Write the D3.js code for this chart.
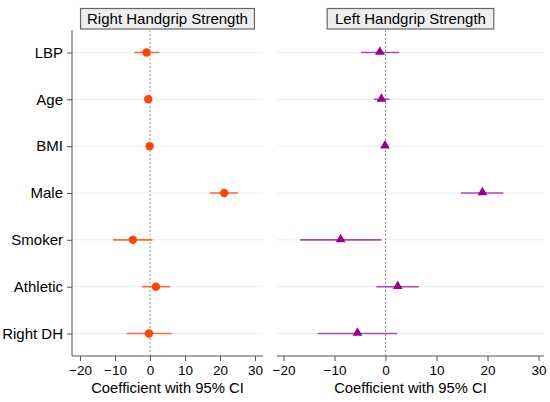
<!DOCTYPE html>
<html>
<head>
<meta charset="utf-8">
<script src="https://cdn.jsdelivr.net/npm/d3@7"></script>
<style>
  body { margin: 0; background: #fff; }
  text { font-family: "Liberation Sans", Arial, sans-serif; fill: #000; }
</style>
</head>
<body>
<div id="chart"></div>
<script>
const categories = ['LBP', 'Age', 'BMI', 'Male', 'Smoker', 'Athletic', 'Right DH']
const panelTitles = ['Right Handgrip Strength', 'Left Handgrip Strength']
const xTicks = [-20, -10, 0, 10, 20, 30]

// right handgrip: coefficient, lower, upper
const rightCoef  = [-1.0, -0.5, -0.1, 21.2, -4.9, 1.7, -0.3]
const rightLower = [-4.5, -0.9, -0.3, 17.1, -10.6, -2.3, -6.7]
const rightUpper = [2.7, -0.1, 0.1, 25.1, 0.7, 5.8, 6.2]

// left handgrip
const leftCoef  = [-1.1, -0.8, -0.1, 19.0, -8.8, 2.4, -5.5]
const leftLower = [-4.8, -2.3, -0.4, 14.8, -16.7, -1.8, -13.3]
const leftUpper = [2.7, 0.8, 0.2, 23.1, -0.8, 6.5, 2.3]

const width = 550
const height = 402
const plotTop = 30
const plotBottom = 356

const panels = [
    { title: panelTitles[0], x0: 72, x1: 263, coef: rightCoef, lo: rightLower, hi: rightUpper,
      marker: '#ff4500', ci: '#ff6c3c', shape: 'circle' },
    { title: panelTitles[1], x0: 277, x1: 544, coef: leftCoef, lo: leftLower, hi: leftUpper,
      marker: '#990090', ci: '#b545b5', shape: 'triangle' }
]

const svg = d3.select('#chart')
    .append('svg')
    .attr('width', width)
    .attr('height', height)

const yScale = d3.scalePoint()
    .domain(categories)
    .range([plotTop, plotBottom])
    .padding(0.48)

panels.forEach((p, i) => {
    // map -20 and 30 to the read tick positions
    const xScale = d3.scaleLinear()
        .domain([-20, 30])
        .range(i === 0 ? [80, 255] : [283.5, 538.5])

    const g = svg.append('g')

    // grid lines
    g.selectAll('.grid')
        .data(categories)
        .enter()
        .append('line')
        .attr('x1', p.x0)
        .attr('x2', p.x1)
        .attr('y1', d => yScale(d))
        .attr('y2', d => yScale(d))
        .attr('stroke', '#e6f1f3')
        .attr('stroke-width', 1)

    // zero reference line
    g.append('line')
        .attr('x1', xScale(0))
        .attr('x2', xScale(0))
        .attr('y1', plotTop)
        .attr('y2', plotBottom)
        .attr('stroke', '#999')
        .attr('stroke-width', 1)
        .attr('stroke-dasharray', '2,2')

    // x axis
    const xAxis = d3.axisBottom(xScale)
        .tickValues(xTicks)
        .tickSize(5)
        .tickFormat(d => d < 0 ? '\u2212' + Math.abs(d) : d)
    const xg = g.append('g')
        .attr('transform', 'translate(0,' + plotBottom + ')')
        .call(xAxis)
    xg.select('.domain').remove()
    xg.append('line')
        .attr('x1', p.x0).attr('x2', p.x1)
        .attr('stroke', '#555')
    xg.selectAll('.tick line').attr('stroke', '#555')
    xg.selectAll('.tick text')
        .attr('y', 9)
        .attr('fill', '#000')
        .style('font-size', '13.5px')
        .style('font-family', '"Liberation Sans", Arial, sans-serif')

    g.append('text')
        .attr('x', (p.x0 + p.x1) / 2)
        .attr('y', 393)
        .attr('text-anchor', 'middle')
        .style('font-size', '14.8px')
        .text('Coefficient with 95% CI')

    // y axis only on first panel
    if (i === 0) {
        const yAxis = d3.axisLeft(yScale).tickSize(5).tickPadding(4)
        const yg = g.append('g')
            .attr('transform', 'translate(' + p.x0 + ',0)')
            .call(yAxis)
        yg.select('.domain').attr('stroke', '#555').attr('d', 'M0,' + plotTop + 'V' + plotBottom)
        yg.selectAll('.tick line').attr('stroke', '#555')
        yg.selectAll('.tick text')
            .attr('fill', '#000')
            .style('font-size', '15px')
            .style('font-family', '"Liberation Sans", Arial, sans-serif')
    }

    // panel header
    const cx = (p.x0 + p.x1) / 2
    const bw = p.title.length * 7.3 + 6
    g.append('rect')
        .attr('x', cx - bw / 2)
        .attr('y', 8.5)
        .attr('width', bw)
        .attr('height', 20.5)
        .attr('fill', '#eeeeee')
        .attr('stroke', '#666')
        .attr('stroke-width', 1.2)
    g.append('text')
        .attr('x', cx)
        .attr('y', 24)
        .attr('text-anchor', 'middle')
        .style('font-size', '15px')
        .text(p.title)

    // confidence intervals
    g.selectAll('.ci')
        .data(categories)
        .enter()
        .append('line')
        .attr('x1', (d, k) => xScale(p.lo[k]))
        .attr('x2', (d, k) => xScale(p.hi[k]))
        .attr('y1', d => yScale(d))
        .attr('y2', d => yScale(d))
        .attr('stroke', p.ci)
        .attr('stroke-width', 1.6)

    // markers
    if (p.shape === 'circle') {
        g.selectAll('.pt')
            .data(categories)
            .enter()
            .append('circle')
            .attr('cx', (d, k) => xScale(p.coef[k]))
            .attr('cy', d => yScale(d))
            .attr('r', 4.2)
            .attr('fill', p.marker)
    } else {
        const tri = d3.symbol().type(d3.symbolTriangle).size(42)
        g.selectAll('.pt')
            .data(categories)
            .enter()
            .append('path')
            .attr('d', tri)
            .attr('transform', (d, k) => 'translate(' + xScale(p.coef[k]) + ',' + (yScale(d) - 0.5) + ')')
            .attr('fill', p.marker)
    }
})
</script>
</body>
</html>
